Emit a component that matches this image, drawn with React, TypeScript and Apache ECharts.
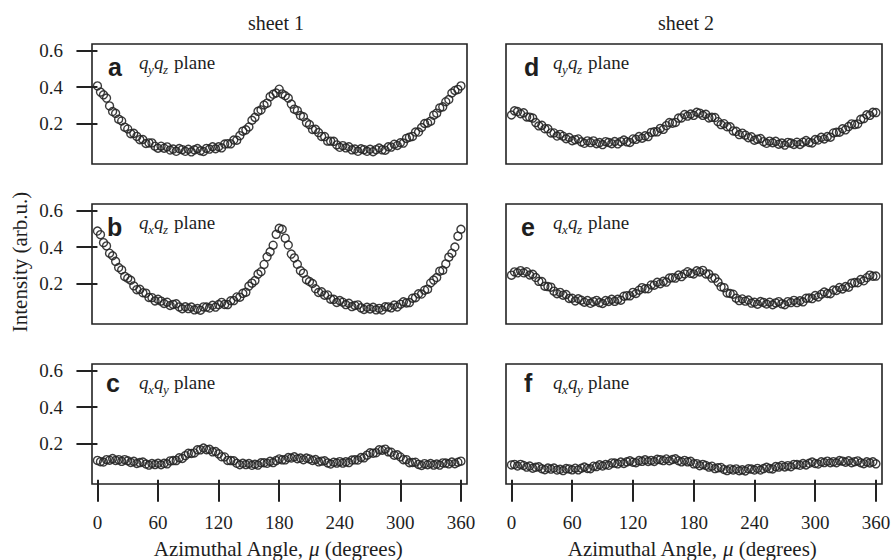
import React, { useEffect, useRef } from "react";
import * as echarts from "echarts";

const anglesDeg = [
  0, 3, 6, 9, 12, 15, 18, 21, 24, 27, 30, 33, 36, 39, 42, 45, 48, 51, 54, 57,
  60, 63, 66, 69, 72, 75, 78, 81, 84, 87, 90, 93, 96, 99, 102, 105, 108, 111, 114, 117,
  120, 123, 126, 129, 132, 135, 138, 141, 144, 147, 150, 153, 156, 159, 162, 165, 168, 171, 174, 177,
  180, 183, 186, 189, 192, 195, 198, 201, 204, 207, 210, 213, 216, 219, 222, 225, 228, 231, 234, 237,
  240, 243, 246, 249, 252, 255, 258, 261, 264, 267, 270, 273, 276, 279, 282, 285, 288, 291, 294, 297,
  300, 303, 306, 309, 312, 315, 318, 321, 324, 327, 330, 333, 336, 339, 342, 345, 348, 351, 354, 357,
  360,
];

// sheet 1, q_y q_z plane
const sheet1QyQz = [
  0.406, 0.372, 0.357, 0.339, 0.296, 0.265, 0.255, 0.223, 0.213, 0.179,
  0.169, 0.143, 0.145, 0.128, 0.110, 0.111, 0.089, 0.092, 0.092, 0.074,
  0.063, 0.074, 0.063, 0.070, 0.053, 0.058, 0.046, 0.061, 0.055, 0.046,
  0.057, 0.043, 0.054, 0.061, 0.049, 0.045, 0.062, 0.058, 0.071, 0.060,
  0.071, 0.065, 0.086, 0.088, 0.087, 0.108, 0.107, 0.132, 0.157, 0.164,
  0.180, 0.217, 0.233, 0.266, 0.274, 0.301, 0.311, 0.347, 0.360, 0.367,
  0.388, 0.362, 0.352, 0.339, 0.306, 0.278, 0.270, 0.243, 0.236, 0.204,
  0.193, 0.166, 0.167, 0.149, 0.128, 0.127, 0.102, 0.102, 0.101, 0.081,
  0.068, 0.077, 0.065, 0.071, 0.054, 0.058, 0.046, 0.060, 0.055, 0.046,
  0.057, 0.044, 0.055, 0.064, 0.054, 0.052, 0.071, 0.069, 0.085, 0.078,
  0.093, 0.091, 0.117, 0.124, 0.128, 0.152, 0.152, 0.177, 0.199, 0.202,
  0.212, 0.245, 0.256, 0.285, 0.291, 0.319, 0.331, 0.367, 0.381, 0.387,
  0.406,
];

// sheet 1, q_x q_z plane
const sheet1QxQz = [
  0.488, 0.468, 0.424, 0.406, 0.366, 0.352, 0.321, 0.287, 0.274, 0.238,
  0.228, 0.217, 0.186, 0.165, 0.167, 0.148, 0.146, 0.122, 0.121, 0.103,
  0.112, 0.102, 0.089, 0.096, 0.078, 0.084, 0.087, 0.070, 0.060, 0.071,
  0.061, 0.069, 0.054, 0.061, 0.052, 0.070, 0.069, 0.064, 0.079, 0.069,
  0.083, 0.095, 0.084, 0.083, 0.104, 0.105, 0.125, 0.124, 0.145, 0.151,
  0.185, 0.201, 0.215, 0.251, 0.264, 0.304, 0.346, 0.374, 0.410, 0.470,
  0.503, 0.498, 0.449, 0.411, 0.361, 0.340, 0.305, 0.270, 0.256, 0.220,
  0.210, 0.199, 0.170, 0.150, 0.153, 0.135, 0.136, 0.113, 0.112, 0.095,
  0.105, 0.096, 0.083, 0.090, 0.072, 0.078, 0.081, 0.065, 0.056, 0.068,
  0.059, 0.068, 0.054, 0.062, 0.053, 0.071, 0.070, 0.065, 0.080, 0.070,
  0.085, 0.098, 0.092, 0.094, 0.118, 0.121, 0.142, 0.141, 0.162, 0.168,
  0.202, 0.218, 0.232, 0.267, 0.272, 0.307, 0.344, 0.366, 0.400, 0.460,
  0.498,
];

// sheet 1, q_x q_y plane
const sheet1QxQy = [
  0.106, 0.099, 0.097, 0.110, 0.107, 0.116, 0.106, 0.110, 0.101, 0.110,
  0.104, 0.095, 0.101, 0.089, 0.094, 0.097, 0.086, 0.080, 0.089, 0.083,
  0.090, 0.082, 0.090, 0.087, 0.103, 0.105, 0.105, 0.120, 0.117, 0.132,
  0.145, 0.144, 0.147, 0.164, 0.164, 0.174, 0.165, 0.167, 0.153, 0.155,
  0.142, 0.126, 0.125, 0.106, 0.105, 0.104, 0.090, 0.082, 0.090, 0.083,
  0.089, 0.079, 0.085, 0.080, 0.093, 0.093, 0.090, 0.101, 0.094, 0.105,
  0.114, 0.109, 0.109, 0.122, 0.119, 0.126, 0.115, 0.119, 0.110, 0.119,
  0.114, 0.106, 0.111, 0.098, 0.102, 0.104, 0.092, 0.086, 0.096, 0.091,
  0.099, 0.091, 0.098, 0.094, 0.108, 0.109, 0.108, 0.122, 0.120, 0.135,
  0.148, 0.146, 0.148, 0.164, 0.162, 0.168, 0.153, 0.151, 0.135, 0.137,
  0.125, 0.110, 0.110, 0.093, 0.095, 0.096, 0.084, 0.078, 0.088, 0.082,
  0.089, 0.080, 0.086, 0.080, 0.092, 0.091, 0.087, 0.097, 0.088, 0.096,
  0.102,
];

// sheet 2, q_y q_z plane
const sheet2QyQz = [
  0.246, 0.269, 0.265, 0.253, 0.258, 0.235, 0.234, 0.229, 0.204, 0.186,
  0.189, 0.170, 0.170, 0.147, 0.147, 0.130, 0.139, 0.129, 0.115, 0.122,
  0.104, 0.110, 0.114, 0.098, 0.090, 0.103, 0.094, 0.103, 0.088, 0.094,
  0.083, 0.099, 0.095, 0.088, 0.100, 0.087, 0.099, 0.108, 0.098, 0.095,
  0.114, 0.112, 0.127, 0.118, 0.131, 0.127, 0.150, 0.153, 0.153, 0.172,
  0.167, 0.187, 0.204, 0.201, 0.205, 0.229, 0.230, 0.248, 0.240, 0.251,
  0.244, 0.261, 0.256, 0.244, 0.250, 0.230, 0.233, 0.232, 0.209, 0.193,
  0.198, 0.181, 0.181, 0.158, 0.156, 0.138, 0.146, 0.135, 0.121, 0.126,
  0.107, 0.113, 0.116, 0.099, 0.090, 0.102, 0.093, 0.101, 0.085, 0.091,
  0.080, 0.095, 0.091, 0.084, 0.096, 0.084, 0.096, 0.105, 0.095, 0.092,
  0.111, 0.108, 0.123, 0.114, 0.127, 0.124, 0.147, 0.151, 0.151, 0.170,
  0.164, 0.182, 0.197, 0.193, 0.197, 0.222, 0.226, 0.247, 0.244, 0.261,
  0.259,
];

// sheet 2, q_x q_z plane
const sheet2QxQz = [
  0.245, 0.263, 0.258, 0.270, 0.258, 0.264, 0.246, 0.250, 0.232, 0.211,
  0.210, 0.184, 0.182, 0.179, 0.157, 0.143, 0.150, 0.135, 0.138, 0.117,
  0.118, 0.103, 0.115, 0.107, 0.096, 0.105, 0.090, 0.099, 0.106, 0.094,
  0.089, 0.105, 0.100, 0.112, 0.101, 0.112, 0.107, 0.129, 0.132, 0.131,
  0.150, 0.144, 0.162, 0.176, 0.170, 0.170, 0.191, 0.190, 0.206, 0.198,
  0.211, 0.207, 0.229, 0.231, 0.229, 0.246, 0.237, 0.252, 0.264, 0.255,
  0.252, 0.269, 0.263, 0.271, 0.252, 0.251, 0.229, 0.229, 0.207, 0.181,
  0.176, 0.147, 0.144, 0.140, 0.118, 0.105, 0.114, 0.102, 0.108, 0.091,
  0.096, 0.085, 0.100, 0.095, 0.086, 0.096, 0.082, 0.092, 0.099, 0.087,
  0.082, 0.099, 0.094, 0.106, 0.094, 0.104, 0.098, 0.118, 0.119, 0.116,
  0.133, 0.125, 0.140, 0.152, 0.144, 0.143, 0.163, 0.161, 0.177, 0.169,
  0.182, 0.179, 0.201, 0.204, 0.203, 0.221, 0.214, 0.231, 0.245, 0.239,
  0.240,
];

// sheet 2, q_x q_y plane
const sheet2QxQy = [
  0.081, 0.084, 0.075, 0.084, 0.078, 0.069, 0.075, 0.063, 0.068, 0.071,
  0.060, 0.055, 0.064, 0.058, 0.064, 0.053, 0.057, 0.050, 0.061, 0.059,
  0.054, 0.063, 0.054, 0.063, 0.069, 0.062, 0.060, 0.074, 0.072, 0.082,
  0.075, 0.083, 0.079, 0.092, 0.091, 0.087, 0.097, 0.089, 0.098, 0.104,
  0.096, 0.093, 0.105, 0.101, 0.109, 0.100, 0.106, 0.100, 0.112, 0.110,
  0.105, 0.114, 0.104, 0.111, 0.115, 0.104, 0.098, 0.106, 0.098, 0.101,
  0.087, 0.088, 0.077, 0.084, 0.078, 0.069, 0.074, 0.061, 0.065, 0.067,
  0.056, 0.050, 0.059, 0.053, 0.059, 0.049, 0.054, 0.048, 0.060, 0.058,
  0.053, 0.062, 0.053, 0.061, 0.068, 0.061, 0.059, 0.072, 0.069, 0.078,
  0.070, 0.077, 0.071, 0.084, 0.083, 0.079, 0.089, 0.081, 0.090, 0.097,
  0.089, 0.086, 0.098, 0.094, 0.102, 0.093, 0.099, 0.093, 0.105, 0.102,
  0.096, 0.104, 0.093, 0.099, 0.103, 0.093, 0.088, 0.098, 0.092, 0.098,
  0.087,
];

const xTickValues = [0, 60, 120, 180, 240, 300, 360];
const yTickValues = [0.2, 0.4, 0.6];
const sheetTitles = ["sheet 1", "sheet 2"];
const panelLetters = ["a", "b", "c", "d", "e", "f"];
const panelSubs: [string, string][] = [
  ["y", "z"], ["x", "z"], ["x", "y"],
  ["y", "z"], ["x", "z"], ["x", "y"],
];
const panelSeries = [sheet1QyQz, sheet1QxQz, sheet1QxQy, sheet2QyQz, sheet2QxQz, sheet2QxQy];

const SERIF = "'Liberation Serif', 'Times New Roman', serif";
const SANS = "'Liberation Sans', Arial, sans-serif";
const INK = "#1e1e1e";

const colLeft = [92, 506];
const colWidth = [375, 376];
const rowTop = [44, 204, 364];
const rowHeight = 120;
const letterBase = [31, 31, 27];
const letterDx = [16, 15, 14, 18, 15, 18];

function panelLabel(gl: number, gt: number, idx: number, row: number): any[] {
  const letter = panelLetters[idx];
  const [s1, s2] = panelSubs[idx];
  const base = gt + 24.7;
  const subBase = gt + 29.5;
  const mainMid = base - 6.3;
  const subMid = subBase - 4.5;
  const lb = gt + letterBase[row] - 8.3;
  const mk = (x: number, y: number, text: string, size: number, italic: boolean, family = SERIF, bold = false) => ({
    type: "text",
    x,
    y,
    silent: true,
    style: {
      text,
      fill: INK,
      fontFamily: family,
      fontSize: size,
      fontStyle: italic ? "italic" : "normal",
      fontWeight: bold ? "bold" : "normal",
      align: "left",
      verticalAlign: "middle",
      textAlign: "left",
      textVerticalAlign: "middle",
    },
  });
  return [
    mk(gl + letterDx[idx], lb, letter, 25, false, SANS, true),
    mk(gl + 47, mainMid, "q", 19, true),
    mk(gl + 56, subMid, s1, 13, true),
    mk(gl + 62, mainMid, "q", 19, true),
    mk(gl + 71, subMid, s2, 13, true),
    mk(gl + 82, mainMid, "plane", 19, false),
  ];
}

export default function App() {
  const ref = useRef<HTMLDivElement>(null);

  useEffect(() => {
    if (!ref.current) return;
    const chart = echarts.init(ref.current, undefined, { renderer: "svg" });

    const grids: any[] = [];
    const xAxes: any[] = [];
    const yAxes: any[] = [];
    const series: any[] = [];
    const graphics: any[] = [];

    for (let col = 0; col < 2; col++) {
      for (let row = 0; row < 3; row++) {
        const idx = col * 3 + row;
        const gl = colLeft[col];
        const gt = rowTop[row];
        grids.push({
          left: gl,
          top: gt,
          width: colWidth[col],
          height: rowHeight,
          show: true,
          borderColor: "#222",
          borderWidth: 1.6,
          backgroundColor: "transparent",
          containLabel: false,
          outerBoundsMode: "none",
        });
        const bottomRow = row === 2;
        const leftCol = col === 0;
        xAxes.push({
          gridIndex: idx,
          type: "value",
          min: -5.4,
          max: 366,
          axisLine: { show: false },
          splitLine: { show: false },
          axisTick: {
            show: bottomRow,
            inside: false,
            length: 22,
            customValues: xTickValues,
            lineStyle: { color: "#222", width: 2 },
          },
          axisLabel: {
            show: bottomRow,
            customValues: xTickValues,
            margin: 29,
            fontSize: 19,
            fontFamily: SERIF,
            color: INK,
          },
        });
        yAxes.push({
          gridIndex: idx,
          type: "value",
          min: -0.024,
          max: 0.637,
          axisLine: { show: false },
          splitLine: { show: false },
          axisTick: {
            show: leftCol,
            inside: false,
            length: 21,
            customValues: yTickValues,
            lineStyle: { color: "#222", width: 2 },
          },
          axisLabel: {
            show: leftCol,
            customValues: yTickValues,
            formatter: (v: number) => v.toFixed(1),
            margin: 29,
            fontSize: 19,
            fontFamily: SERIF,
            color: INK,
          },
        });
        const vals = panelSeries[idx];
        series.push({
          type: "scatter",
          xAxisIndex: idx,
          yAxisIndex: idx,
          symbol: "circle",
          symbolSize: 8,
          silent: true,
          itemStyle: {
            color: "rgba(0,0,0,0)",
            borderColor: "#262626",
            borderWidth: 1.4,
            opacity: 0.9,
          },
          data: anglesDeg.map((a, i) => [a, vals[i]]),
        });
        graphics.push(...panelLabel(gl, gt, idx, row));
      }
    }

    const titleStyle = (text: string, size: number) => ({
      text,
      fill: INK,
      fontFamily: SERIF,
      fontSize: size,
      align: "center",
      verticalAlign: "middle",
      textAlign: "center",
      textVerticalAlign: "middle",
    });

    graphics.push({ type: "text", x: 276, y: 23, silent: true, style: titleStyle(sheetTitles[0], 20) });
    graphics.push({ type: "text", x: 686, y: 23, silent: true, style: titleStyle(sheetTitles[1], 20) });
    graphics.push({
      type: "text",
      x: 20,
      y: 262,
      rotation: Math.PI / 2,
      silent: true,
      style: titleStyle("Intensity (arb.u.)", 21),
    });
    const axisTitle = (cx: number) => ({
      type: "text",
      x: cx,
      y: 549,
      silent: true,
      style: {
        text: "{n|Azimuthal Angle, }{i|μ}{n| (degrees)}",
        align: "center",
        verticalAlign: "middle",
        textAlign: "center",
        textVerticalAlign: "middle",
        rich: {
          n: { fontFamily: SERIF, fontSize: 21, fill: INK, color: INK },
          i: { fontFamily: SERIF, fontSize: 21, fontStyle: "italic", fill: INK, color: INK },
        },
      },
    });
    graphics.push(axisTitle(278));
    graphics.push(axisTitle(692));

    chart.setOption({
      animation: false,
      backgroundColor: "#ffffff",
      grid: grids,
      xAxis: xAxes,
      yAxis: yAxes,
      series,
      graphic: graphics,
    });

    return () => chart.dispose();
  }, []);

  return (
    <div
      ref={ref}
      style={{ position: "fixed", left: 0, top: 0, width: 892, height: 560 }}
    />
  );
}
